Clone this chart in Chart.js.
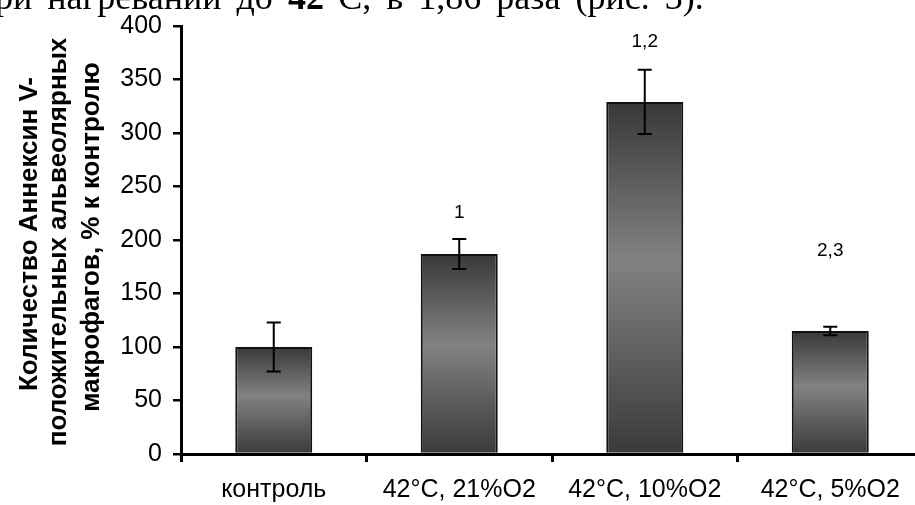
<!DOCTYPE html>
<html>
<head>
<meta charset="utf-8">
<script src="https://cdn.jsdelivr.net/npm/chart.js@4.4.1/dist/chart.umd.min.js"></script>
<style>
  html, body { margin: 0; padding: 0; background: #fff; overflow: hidden; }
  #wrap { position: relative; width: 915px; height: 505px; overflow: hidden; }
  #c { position: absolute; left: 0; top: 0; }
  #cap { position: absolute; left: -5px; top: -21px; font: 36px "Liberation Serif"; line-height: 36px; word-spacing: 6px; white-space: nowrap; color: #000; }
</style>
</head>
<body>
<div id="wrap">
  <canvas id="c" width="925" height="505"></canvas>
  <div id="cap">ри нагревании до <b>42</b>°C, в 1,86 раза (рис. 3).</div>
</div>
<script>
'use strict';

/* ---------------- données ---------------- */
var categories = ['контроль', '42°C, 21%O2', '42°C, 10%O2', '42°C, 5%O2'];
var values = [100, 187, 329, 115];
var errors = [23, 14, 30, 4];
var marks = ['', '1', '1,2', '2,3'];
var markLevels = [null, 225, 385, 190];
var yTicks = [0, 50, 100, 150, 200, 250, 300, 350, 400];
var titleLines = ['Количество Аннексин V-', 'положительных альвеолярных', 'макрофагов, % к контролю'];

/* ---------------- dégradé des barres ---------------- */
function barFill(ctx) {
  var chart = ctx.chart;
  if (!chart.chartArea || ctx.type !== 'data') {
    return '#5a5a5a';
  }
  var top = chart.scales.y.getPixelForValue(values[ctx.dataIndex]);
  var base = chart.scales.y.getPixelForValue(0);
  var g = chart.ctx.createLinearGradient(0, top, 0, base);
  g.addColorStop(0, '#383838');
  g.addColorStop(0.45, '#828282');
  g.addColorStop(1, '#3a3a3a');
  return g;
}

/* ---------------- plugins ---------------- */
var errorBars = {
  id: 'errorBars',
  afterDatasetsDraw: function(chart) {
    var ctx = chart.ctx;
    var y = chart.scales.y;
    var meta = chart.getDatasetMeta(0);
    ctx.save();
    ctx.strokeStyle = '#000';
    ctx.lineWidth = 2;
    meta.data.forEach(function(bar, i) {
      var hi = y.getPixelForValue(values[i] + errors[i]);
      var lo = y.getPixelForValue(values[i] - errors[i]);
      ctx.beginPath();
      ctx.moveTo(bar.x, hi);
      ctx.lineTo(bar.x, lo);
      ctx.moveTo(bar.x - 7, hi);
      ctx.lineTo(bar.x + 7, hi);
      ctx.moveTo(bar.x - 7, lo);
      ctx.lineTo(bar.x + 7, lo);
      ctx.stroke();
    });
    ctx.restore();
  }
};

var marksPlugin = {
  id: 'marks',
  afterDatasetsDraw: function(chart) {
    var ctx = chart.ctx;
    var y = chart.scales.y;
    var meta = chart.getDatasetMeta(0);
    ctx.save();
    ctx.fillStyle = '#000';
    ctx.font = '19px "Liberation Sans"';
    ctx.textAlign = 'center';
    ctx.textBaseline = 'middle';
    meta.data.forEach(function(bar, i) {
      if (markLevels[i] === null) return;
      ctx.fillText(marks[i], bar.x, y.getPixelForValue(markLevels[i]));
    });
    ctx.restore();
  }
};

// titre vertical sur trois lignes (ligne de base à droite après rotation)
var yTitle = {
  id: 'yTitle',
  afterDraw: function(chart) {
    var ctx = chart.ctx;
    var xs = [37, 66, 99];
    var cs = [234, 242, 237];
    ctx.save();
    ctx.fillStyle = '#000';
    ctx.font = 'bold 26px "Liberation Sans"';
    ctx.textAlign = 'center';
    ctx.textBaseline = 'alphabetic';
    titleLines.forEach(function(t, i) {
      ctx.save();
      ctx.translate(xs[i], cs[i]);
      ctx.rotate(-Math.PI / 2);
      ctx.fillText(t, 0, 0);
      ctx.restore();
    });
    ctx.restore();
  }
};

/* ---------------- graphique ---------------- */
new Chart(document.getElementById('c').getContext('2d'), {
  type: 'bar',
  data: {
    labels: categories,
    datasets: [{
      data: values,
      backgroundColor: barFill,
      borderColor: '#111',
      borderWidth: 2,
      categoryPercentage: 1,
      barPercentage: 0.415
    }]
  },
  options: {
    responsive: false,
    animation: false,
    layout: { padding: { top: 24, left: 0, right: 2, bottom: 0 } },
    plugins: {
      legend: { display: false },
      tooltip: { enabled: false }
    },
    scales: {
      x: {
        grid: { drawOnChartArea: false, tickLength: 8, color: '#000', lineWidth: 3 },
        border: { color: '#000', width: 3 },
        ticks: { color: '#000', font: { family: 'Liberation Sans', size: 25 }, padding: 13, maxRotation: 0 },
        afterFit: function(s) { s.height = 51; }
      },
      y: {
        min: 0,
        max: 400,
        afterBuildTicks: function(s) { s.ticks = yTicks.map(function(v) { return { value: v }; }); },
        grid: { drawOnChartArea: false, tickLength: 8, color: '#000', lineWidth: 2.5 },
        border: { color: '#000', width: 3 },
        ticks: { color: '#000', font: { family: 'Liberation Sans', size: 25 }, padding: 11 },
        afterFit: function(s) { s.width = 181; }
      }
    }
  },
  plugins: [errorBars, marksPlugin, yTitle]
});
</script>
</body>
</html>
